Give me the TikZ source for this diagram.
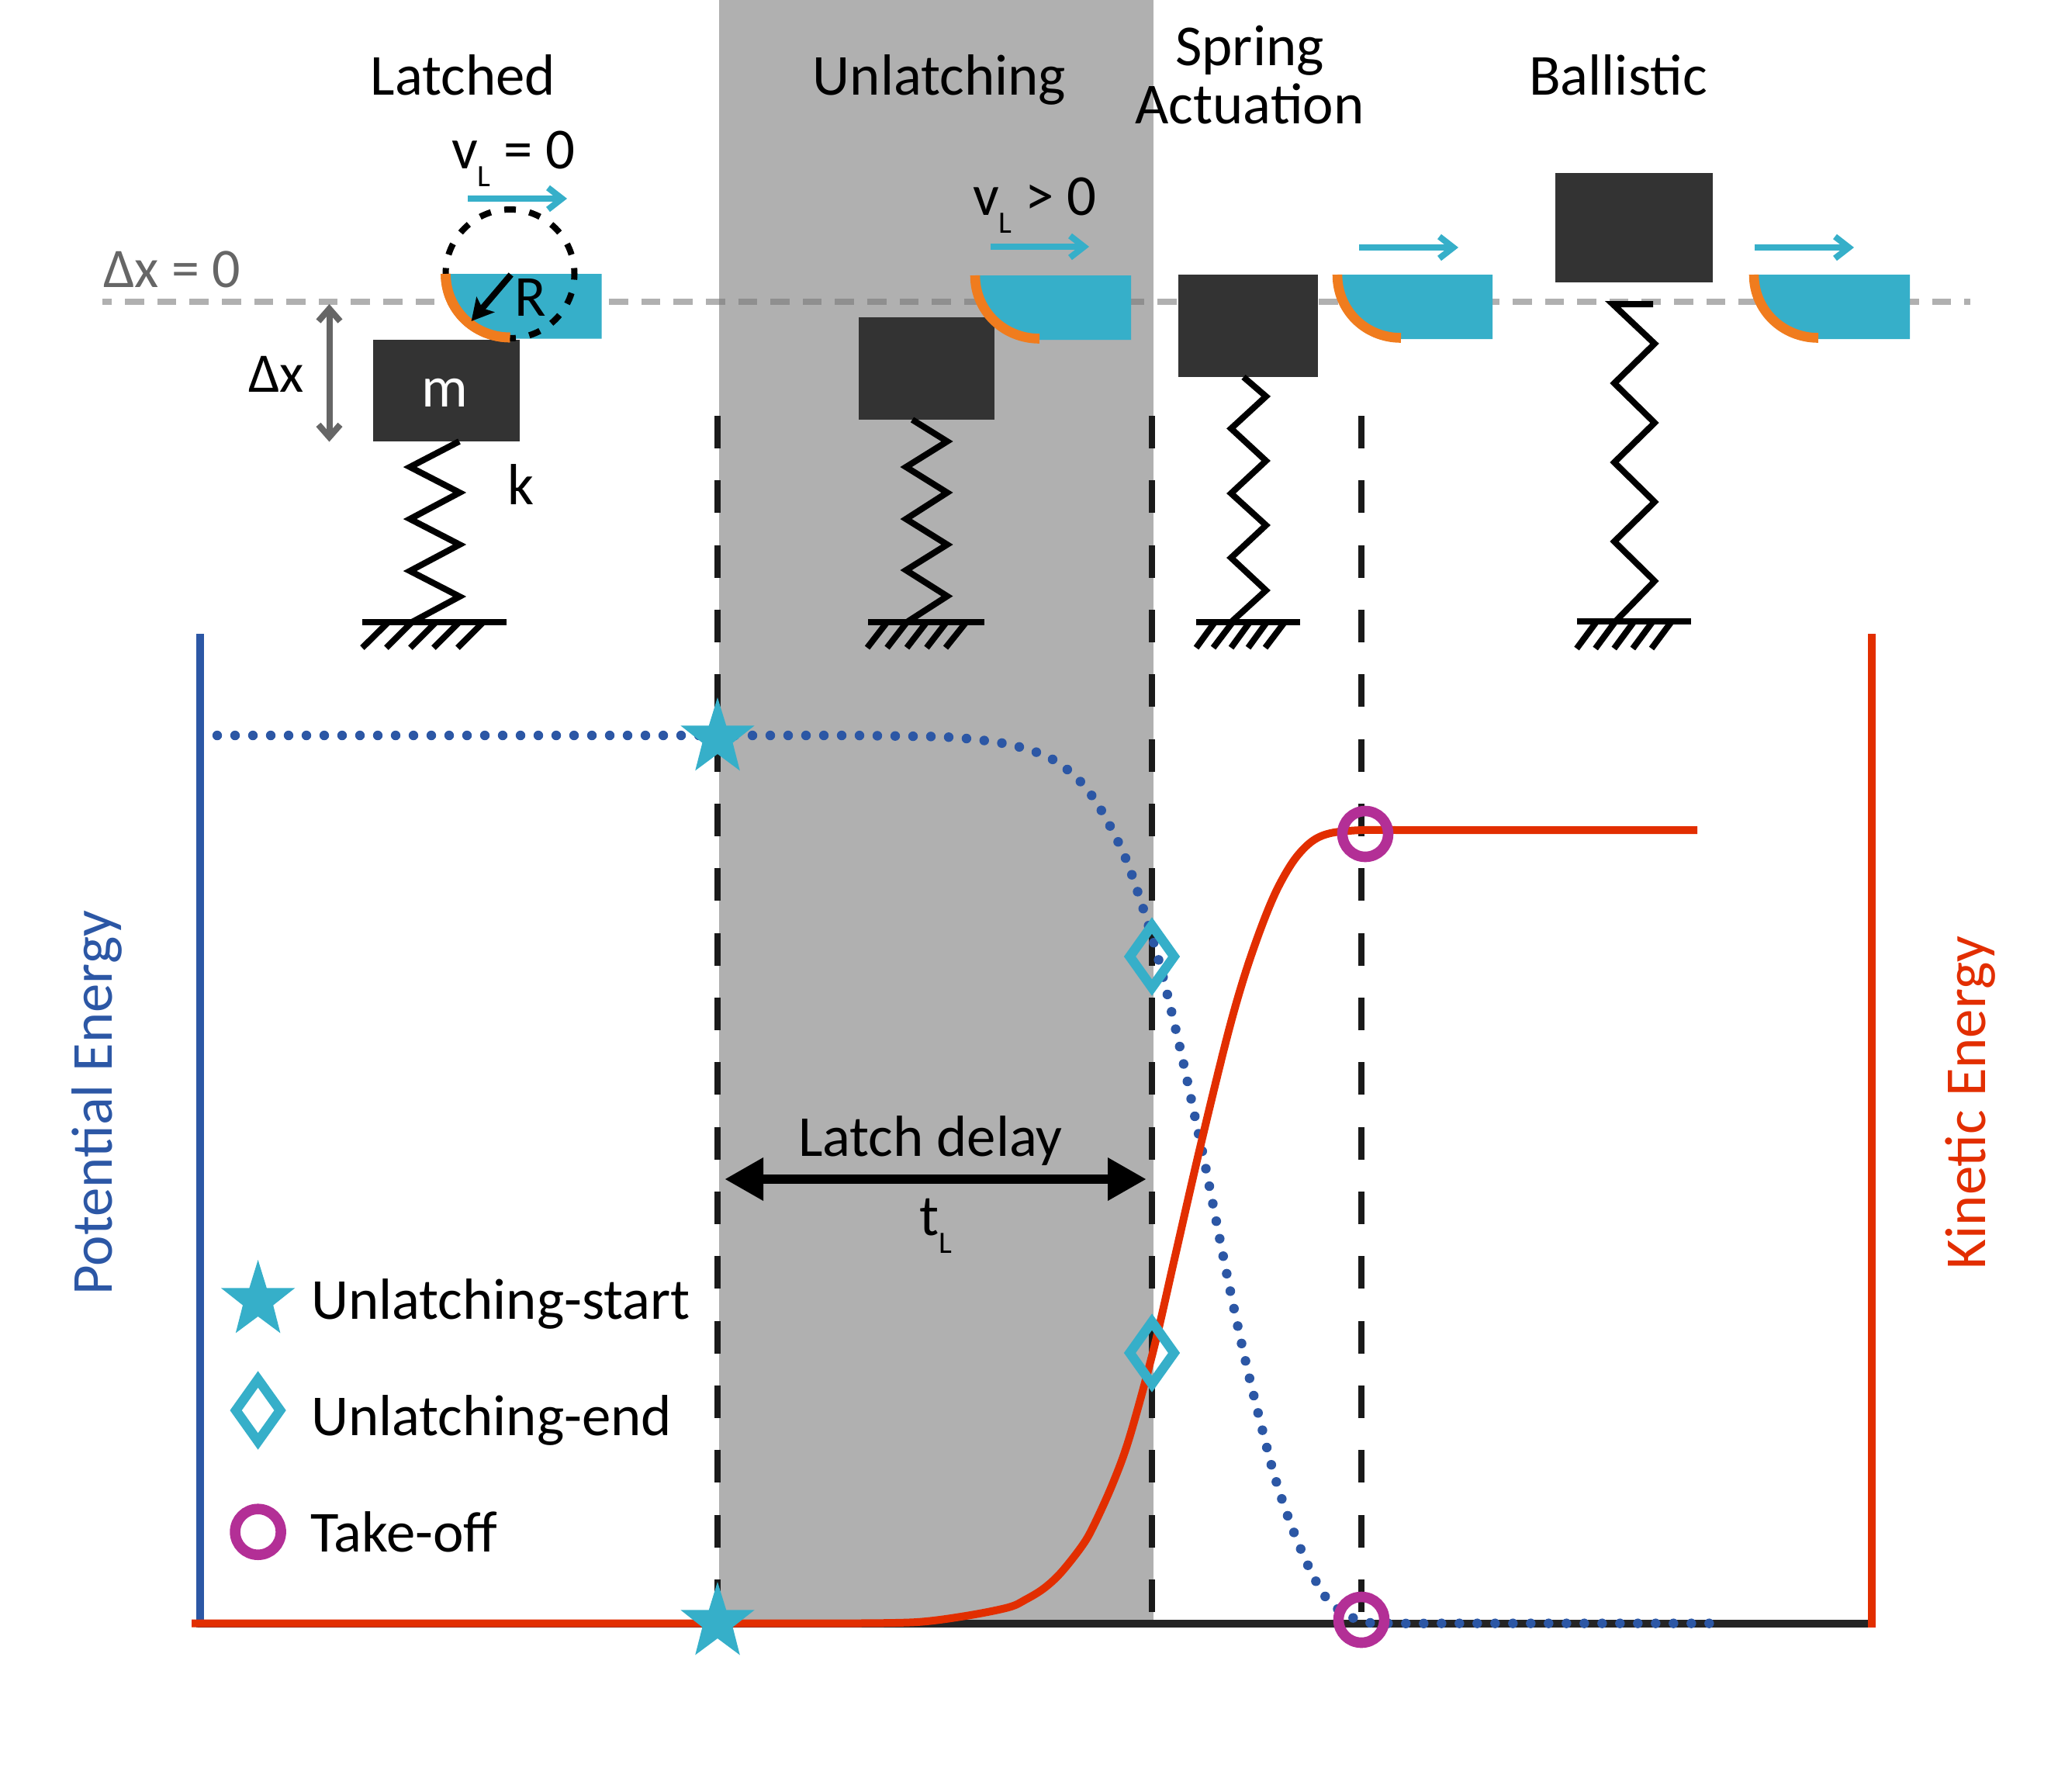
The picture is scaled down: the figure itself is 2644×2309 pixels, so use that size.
\documentclass[tikz,border=0pt]{standalone}
\usepackage{fontspec}
\setmainfont{Carlito}
\usetikzlibrary{arrows.meta}
\definecolor{cyanc}{HTML}{36AFC9}
\definecolor{orangec}{HTML}{F07C1E}
\definecolor{bluec}{HTML}{2C57A5}
\definecolor{redc}{HTML}{E22E00}
\definecolor{magc}{HTML}{B32F96}
\definecolor{massc}{HTML}{333333}
\definecolor{dashc}{HTML}{1A1A1A}
\definecolor{axisc}{HTML}{242424}
\definecolor{bandc}{HTML}{B0B0B0}
\definecolor{banddash}{HTML}{8F8F8F}
\definecolor{arrc}{HTML}{666666}
\tikzset{
  x=0.5pt,y=-0.5pt,
  txt/.style={font=\fontsize{37.4pt}{37.5pt}\selectfont,inner sep=0pt,outer sep=0pt,anchor=base},
  txtw/.style={txt,anchor=base west},
  dxtxt/.style={txtw,font=\fontsize{36pt}{37.5pt}\selectfont},
  massfill/.style={fill=massc},
  springline/.style={draw=black,line width=4pt,miter limit=10},
  groundline/.style={draw=black,line width=4pt},
  hatchline/.style={draw=black,line width=4pt},
  vdash/.style={draw=dashc,line width=4pt,dash pattern=on 21pt off 20.67pt},
  hdash/.style={line width=4pt,dash pattern=on 12.25pt off 8.55pt,dash phase=6.2pt},
  velarrow/.style={draw=cyanc,line width=4pt,-{Straight Barb[length=9pt,width=14pt,line width=4pt]}},
  takeoff/.style={circle,draw=magc,line width=6.8pt,minimum size=29.5pt,inner sep=0pt,outer sep=0pt},
  startmark/.pic={\fill[cyanc] (0,0)--(11.2,36.3)--(47.7,36.3)--(19.6,58.5)--(28.8,94.4)--(0,73)--(-28.8,94.4)--(-19.6,58.5)--(-47.7,36.3)--(-11.2,36.3)--cycle;},
  endmark/.pic={\draw[cyanc,line width=6.2pt,miter limit=10] (0,-40)--(28.5,0)--(0,40)--(-28.5,0)--cycle;}
}
\newcommand{\latchshape}[5]{% left, arc end, right, top, bottom
  \fill[cyanc] (#1,#4)--(#3,#4)--(#3,#5)--(#2,#5) .. controls +(-46,0) and +(0,46) .. (#1,#4)--cycle;
  \draw[orangec,line width=6.3pt] (#1,#4) .. controls +(0,46) and +(-46,0) .. (#2,#5-1.5);
}
\newcommand{\lsub}{\raisebox{-11.5pt}{\fontsize{20pt}{20pt}\selectfont L}}
\begin{document}
\begin{tikzpicture}
\useasboundingbox (0,0) rectangle (2644,2309);
% band
\fill[bandc] (927,0) rectangle (1487,2090);
% horizontal reference line
\draw[hdash,draw=bandc] (132,389) -- (2540,389);
\begin{scope}
\clip (927,0) rectangle (1487,2090);
\draw[hdash,draw=banddash] (132,389) -- (2540,389);
\end{scope}
% vertical dashed lines
\draw[vdash] (925,536) -- (925,2078);
\draw[vdash] (1485,536) -- (1485,2078);
\draw[vdash] (1755,536) -- (1755,2078);

% titles
\node[txt] (latched) at (597,122) {Latched};
\node[txt] (unlatching) at (1211,122) {Unlatching};
\node[txt,anchor=south,align=center] (spring) at (1611,160) {Spring\\Actuation};
\node[txt] (ballistic) at (2086,122) {Ballistic};

% masses
\fill[massfill] (481,438) rectangle (670,569);
\fill[massfill] (1107,409) rectangle (1282,541);
\fill[massfill] (1519,354) rectangle (1699,486);
\fill[massfill] (2005,223) rectangle (2208,364);
\node[txt,text=white] (m) at (573,524) {m};

% latches
\latchshape{574.5}{657.5}{775.5}{353}{436.5}
\latchshape{1257}{1340}{1458}{355}{438}
\latchshape{1724}{1806}{1924}{354}{437}
\latchshape{2261}{2344}{2462}{354}{437}

% radius circle
\draw[black,line width=4pt,dash pattern=on 7.5pt off 8.8pt,dash phase=3.75pt] (657.5,270) arc[start angle=-90,end angle=270,radius=83];
\draw[orangec,line width=6.3pt] (574.5,353) .. controls +(0,46) and +(-46,0) .. (657.5,435);
\coordinate (rs) at (658.7,354);
\coordinate (re) at (607.6,414);
\draw[black,line width=4pt,-{Stealth[length=14pt,width=15pt,inset=3pt]}] (rs) -- (re);
\node[txt] (R) at (684,407) {R};

% velocity arrows
\coordinate (v1a) at (603,256); \coordinate (v1b) at (731,256);
\coordinate (v2a) at (1277,318); \coordinate (v2b) at (1404,318);
\coordinate (v3a) at (1752,319); \coordinate (v3b) at (1880,319);
\coordinate (v4a) at (2262,319); \coordinate (v4b) at (2390,319);
\draw[velarrow] (v1a) -- (v1b);
\draw[velarrow] (v2a) -- (v2b);
\draw[velarrow] (v3a) -- (v3b);
\draw[velarrow] (v4a) -- (v4b);
\node[txtw] (vl0) at (582,217) {v\lsub{} = 0};
\node[txtw] (vl1) at (1254,277) {v\lsub{} > 0};

% delta x
\node[dxtxt,text=arrc] (dx0) at (133,370) {Δx = 0};
\node[dxtxt] (dx) at (320,505) {Δx};
\coordinate (dxa) at (424.5,392); \coordinate (dxb) at (424.5,569.5);
\draw[draw=arrc,line width=4pt,{Straight Barb[length=8pt,width=14pt,line width=4pt]}-{Straight Barb[length=8pt,width=14pt,line width=4pt]}] (dxa) -- (dxb);
\node[txtw] (k) at (654,650) {k};

% springs
\draw[springline] (592,569)--(528.5,602)--(592.5,635)--(528.5,669)--(592.5,702)--(528.5,736)--(592.5,769)--(531,802);
\draw[springline] (1176,541)--(1221,569)--(1168,602)--(1221,635)--(1168,669)--(1221,702)--(1168,735)--(1221,768.5)--(1169,802);
\draw[springline] (1603,486)--(1632,511)--(1587,552.4)--(1632,594)--(1587,636)--(1632,677)--(1587,719)--(1632,761)--(1587,802);
\draw[springline] (2131,392)--(2079,392)--(2133,443)--(2081,494)--(2133,545)--(2081,596)--(2133,647)--(2081,698)--(2133,749)--(2082.5,801);

% grounds
\draw[groundline] (467,802)--(653,802);
\draw[hatchline] (500.5,802)--(467,835) (531,802)--(498,835) (562,802)--(529,835) (592,802)--(559,835) (623,802)--(590,835);
\draw[groundline] (1119,802)--(1269,802);
\draw[hatchline] (1143.5,802)--(1118,835) (1169,802)--(1143.5,835) (1194.5,802)--(1169,835) (1220,802)--(1194.5,835) (1245.5,802)--(1219,835);
\draw[groundline] (1542,802)--(1676,802);
\draw[hatchline] (1566,802)--(1542,835) (1589,802)--(1564,835) (1611,802)--(1587,835) (1633,802)--(1609,835) (1656,802)--(1631,835);
\draw[groundline] (2032.5,801)--(2179.5,801);
\draw[hatchline] (2058.4,801)--(2032.5,836) (2082.5,801)--(2056.6,836) (2106.6,801)--(2080.7,836) (2130.7,801)--(2104.8,836) (2155,801)--(2129,836);

% axes
\draw[draw=bluec,line width=5.2pt] (258,817) -- (258,2098);
\draw[draw=axisc,line width=5pt] (255,2093) -- (2418,2093);
\draw[draw=redc,line width=5pt] (2413,817) -- (2413,2098);
\node[txt,text=bluec,rotate=90] (pe) at (144,1421.5) {Potential Energy};
\node[txt,text=redc,rotate=90] (ke) at (2559,1421.5) {Kinetic Energy};

% curves
\draw[draw=bluec,line width=6.2pt,line cap=round,dash pattern=on 0pt off 11.5pt] (280,948) -- plot[smooth,tension=0.55] coordinates {(1100,948)(1173,949)(1219,950)(1264.6,954)(1309,961.5)(1353.6,977)(1389,1003.6)(1417,1040)(1449,1101.5)(1472,1166)(1492,1231.6)(1509,1299)(1524.5,1365.5)(1539,1433)(1553,1499)(1566.5,1567)(1580,1635)(1594,1702)(1609,1769)(1625.5,1836)(1643,1902.6)(1665,1967.6)(1692,2030)(1717,2068)(1756,2090)(1802,2092.6)(1850,2092.6)} -- (2222,2092.6);
\draw[draw=redc,line width=5pt] (247,2092.5) -- plot[smooth,tension=0.55] coordinates {(1100,2092.5)(1182,2091)(1245,2083)(1300,2072)(1322,2062)(1345,2048)(1367,2028)(1394,1994)(1409,1968.5)(1434,1913.5)(1456,1853)(1487.5,1738)(1514,1623)(1545.5,1485.6)(1581,1340)(1603.6,1260)(1626,1195)(1646,1147)(1668,1109)(1690.6,1085)(1715,1074)(1755,1070)(1800,1070)} -- (2188,1070);

% latch delay
\coordinate (lda) at (935,1520); \coordinate (ldb) at (1477,1520);
\draw[black,line width=6.4pt,{Triangle[length=24.5pt,width=28pt,line width=0pt]}-{Triangle[length=24.5pt,width=28pt,line width=0pt]}] (lda) -- (ldb);
\node[txt] (ld) at (1199.5,1490) {Latch delay};
\node[txtw] (tl) at (1185,1592) {t\lsub};

% markers
\pic at (925,899) {startmark};
\pic at (925,2039) {startmark};
\pic at (1485,1233) {endmark};
\pic at (1485,1744) {endmark};
\node[takeoff] (to1) at (1760,1075) {};
\node[takeoff] (to2) at (1755,2088) {};

% legend
\pic at (332.6,1624) {startmark};
\pic at (332.6,1818) {endmark};
\node[takeoff] (to3) at (332.6,1974.7) {};
\node[txtw] (l1) at (401,1700) {Unlatching-start};
\node[txtw] (l2) at (401,1850.5) {Unlatching-end};
\node[txtw] (l3) at (400,2000) {Take-off};
\end{tikzpicture}
\end{document}
